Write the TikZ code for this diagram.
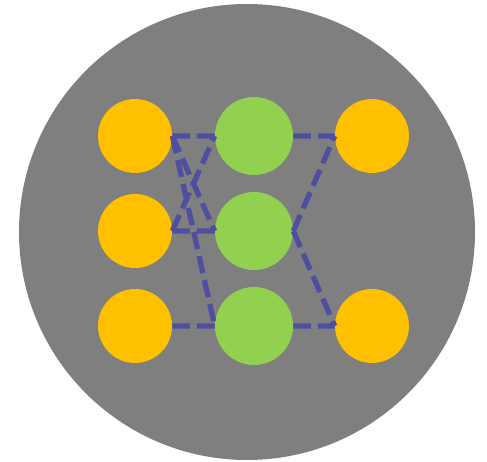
\documentclass[tikz,border=0pt]{standalone}
\definecolor{bggray}{HTML}{7F7F7F}
\definecolor{unitgold}{HTML}{FFC000}
\definecolor{unitgreen}{HTML}{92D050}
\definecolor{linkblue}{HTML}{4F4FA0}
\tikzset{
    inunit/.style={circle,fill=unitgold,minimum size=1.48cm,inner sep=0pt},
    hidunit/.style={circle,fill=unitgreen,minimum size=1.56cm,inner sep=0pt},
    link/.style={draw=linkblue,line width=3pt,dash pattern=on 10pt off 4pt}
}
\begin{document}
\begin{tikzpicture}[x=0.02cm,y=-0.02cm]
            \useasboundingbox (0,0) rectangle (487,462);
            \fill[bggray] (247,232) circle (228);
            \foreach \i/\y in {1/136,2/231,3/326}{
                \node[inunit] (a\i) at (135,\y) {};
                \node[hidunit] (h\i) at (254,\y) {};
            }
            \node[inunit] (o1) at (372,136) {};
            \node[inunit] (o3) at (372,326) {};
            \draw[link]
            (a1.east)--(h1.west) (a1.east)--(h2.west) (a1.east)--(h3.west)
            (a2.east)--(h1.west) (a2.east)--(h2.west)
            (a3.east)--(h3.west)
            ;
            \draw[link]
            (h1.east)--(o1.west) (h2.east)--(o1.west)
            (h2.east)--(o3.west) (h3.east)--(o3.west)
            ;
        \end{tikzpicture}
\end{document}
